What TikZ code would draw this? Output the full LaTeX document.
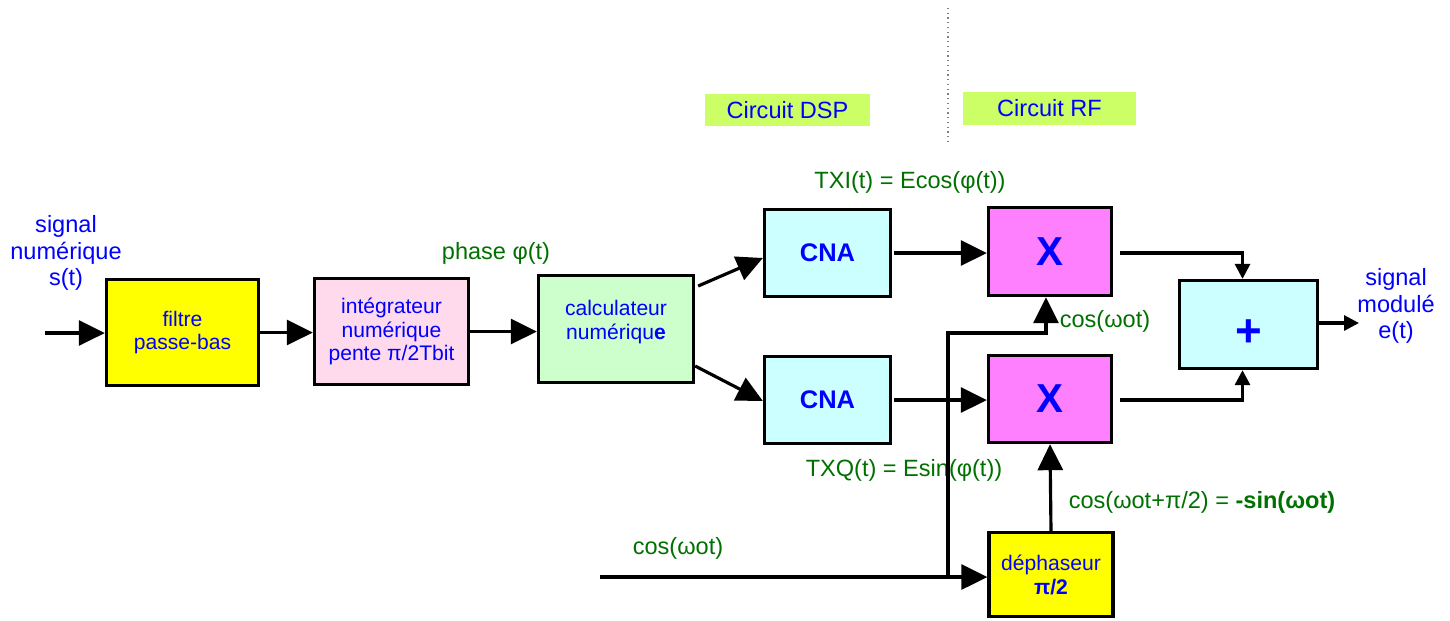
\documentclass[tikz,border=0pt]{standalone}
\usepackage{fontspec}
\setmainfont{Liberation Sans}
\definecolor{myBlue}{RGB}{0,0,255}
\definecolor{myGreen}{RGB}{0,112,0}
\definecolor{myYellow}{RGB}{255,255,0}
\definecolor{myPink}{RGB}{255,217,236}
\definecolor{myMint}{RGB}{204,255,204}
\definecolor{myCyan}{RGB}{204,255,255}
\definecolor{myMagenta}{RGB}{255,128,255}
\definecolor{myLime}{RGB}{204,255,102}
\usetikzlibrary{arrows.meta,positioning,calc}

\begin{document}
\begin{tikzpicture}[x=0.02cm,y=-0.02cm,
    bloc/.style={draw,line width=1.9pt,align=center,text=myBlue,font=\fontsize{12}{13.6}\selectfont},
    lbl/.style={text=myGreen,align=center,font=\fontsize{13.4}{15}\selectfont,inner sep=0pt},
    fl/.style={line width=1.8pt,-{Triangle[length=0.52cm,width=0.5cm]}},
    pfl/.style={line width=1.8pt,-{Triangle[length=0.3cm,width=0.3cm]}}]
    \useasboundingbox (0,0) rectangle (1450,620);

    % blocs
    \node[bloc,fill=myYellow,minimum width=3.04cm,minimum height=2.12cm] (filt) at (182.5,332.5) {filtre\\passe-bas};
    \node[bloc,fill=myPink,minimum width=3.08cm,minimum height=2.12cm] (integ) at (391.5,331.5) {intégrateur\\numérique\\pente π/2Tbit};
    \node[bloc,fill=myMint,minimum width=3.1cm,minimum height=2.14cm] (calc) at (616,329) {\raisebox{4pt}[\height][\depth]{calculateur}\\\raisebox{4pt}[\height][\depth]{numériqu\textbf{e}}};
    \node[bloc,fill=myCyan,minimum width=2.52cm,minimum height=1.74cm,font=\fontsize{14.5}{16}\selectfont\bfseries] (cnaI) at (827.5,253) {CNA};
    \node[bloc,fill=myCyan,minimum width=2.52cm,minimum height=1.74cm,font=\fontsize{14.5}{16}\selectfont\bfseries] (cnaQ) at (827.5,400) {CNA};
    \node[bloc,fill=myMagenta,minimum width=2.46cm,minimum height=1.76cm,font=\fontsize{23}{26}\selectfont\bfseries] (mixI) at (1050,251.5) {X};
    \node[bloc,fill=myMagenta,minimum width=2.46cm,minimum height=1.74cm,font=\fontsize{23}{26}\selectfont\bfseries] (mixQ) at (1050,399) {X};
    \node[bloc,fill=myCyan,minimum width=2.76cm,minimum height=1.76cm,font=\fontsize{26}{28}\selectfont\bfseries] (som) at (1248.5,324.5) {\raisebox{-5pt}[\height][\depth]{+}};
    \node[bloc,fill=myYellow,minimum width=2.48cm,minimum height=1.68cm] (dephas) at (1051,574.5) {déphaseur\\\textbf{π/2}};

    % circuits
    \node[fill=myLime,text=myBlue,minimum width=3.3cm,minimum height=0.64cm,font=\fontsize{13.4}{15}\selectfont] (dsp) at (787.5,110) {Circuit DSP};
    \node[fill=myLime,text=myBlue,minimum width=3.46cm,minimum height=0.66cm,font=\fontsize{13.4}{15}\selectfont] (rf) at (1049.5,108.5) {Circuit RF};
    \draw[gray,dotted,line width=0.7pt] (948,8) -- (948,142);

    % labels
    \node[lbl,text=myBlue] (entree) at (66,253) {signal\\numérique\\s(t)};
    \node[lbl] (phase) at (496,253) {phase φ(t)};
    \node[lbl] (txi) at (910,182) {TXI(t) = Ecos(φ(t))};
    \node[lbl] (txq) at (904,470) {TXQ(t) = Esin(φ(t))};
    \node[lbl] (cosI) at (1105,321) {cos(ωot)};
    \node[lbl] (cosQ) at (1202,502) {cos(ωot+π/2) = \textbf{-sin(ωot)}};
    \node[lbl] (cosLO) at (678,548) {cos(ωot)};
    \node[lbl,text=myBlue] (sortie) at (1396,306) {signal\\modulé\\e(t)};

    % liaisons
    \coordinate (in) at (45,333);
    \coordinate (out) at (1359,323);
    \coordinate (lo) at (600,577);
    \coordinate (br) at (948,577);
    \coordinate (brtop) at (948,333);

    \draw[fl] (in) -- (filt.west |- in);
    \draw[fl] (filt.east) -- (integ.west |- filt.east);
    \draw[fl] (integ.east) -- (calc.west |- integ.east);
    \draw[fl] ($(calc.east)+(3,-43)$) -- ($(cnaI.west)+(0,5)$);
    \draw[fl] ($(calc.east)+(0,37)$) -- ($(cnaQ.west)+(0,1)$);
    \draw[fl] ($(cnaI.east)+(2,0)$) -- (mixI.west |- cnaI.east);
    \draw[fl] ($(cnaQ.east)+(2,0)$) -- (mixQ.west |- cnaQ.east);
    \draw[pfl] ($(mixI.east)+(7,1.5)$) -| ($(som.north)+(-6,0)$);
    \draw[pfl] ($(mixQ.east)+(7,1)$) -| ($(som.south)+(-6,0)$);
    \draw[pfl] (som.east |- out) -- (out);
    \draw[fl] (lo) -- (dephas.west |- lo);
    \draw[fl] (br) -- (brtop) -| ($(mixI.south)+(-4,0)$);
    \draw[fl] (dephas.north) -- (mixQ.south);
\end{tikzpicture}
\end{document}
